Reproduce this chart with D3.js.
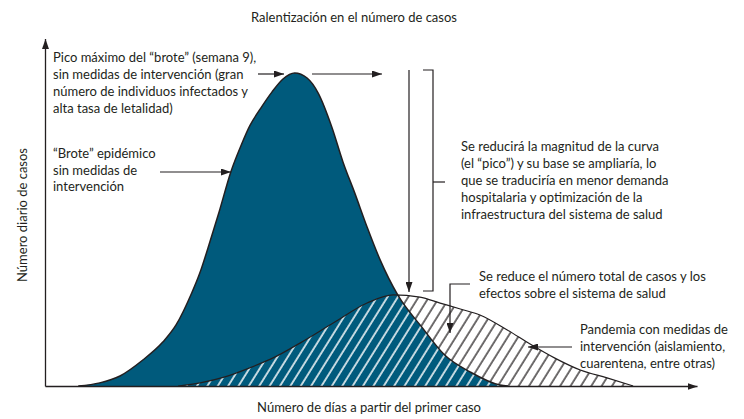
<!DOCTYPE html>
<html><head><meta charset="utf-8">
<script src="https://cdn.jsdelivr.net/npm/d3@7"></script>
<style>
body{margin:0;background:#fff}
svg{display:block}
text{font-family:Lato,"Open Sans",sans-serif;fill:#231f20;font-size:13px}
</style>
</head><body>
<svg id="c" width="744" height="419"></svg>
<script>
// Curve without intervention ("brote"): day, relative daily cases
const outbreakDays  = [5.1, 8.4, 11.5, 15.0, 18.1, 20.1, 22.5, 23.8, 25.0, 26.7, 28.5, 30.1, 31.4, 33.1, 34.8, 36.5, 38.3, 40.2, 41.9, 44.0, 45.7, 47.5, 49.4, 51.4, 54.1, 57.8, 61.3, 65.2, 69.8, 71.0];
const outbreakCases = [0, 1.0, 3.2, 8.3, 14.1, 19.5, 29.7, 36.4, 44.1, 55.6, 68.4, 77.0, 83.1, 88.8, 93.9, 98.1, 100, 98.4, 93.6, 82.7, 71.6, 61.7, 50.8, 40.3, 29.1, 18.8, 9.9, 4.5, 0.3, 0];
// Curve with intervention measures
const flattenedDays  = [20.4, 23.8, 27.6, 31.4, 35.3, 39.1, 44.2, 49.4, 53.4, 57.5, 60.6, 63.7, 66.7, 70.9, 74.4, 78.2, 82.1, 86.2, 90.2];
const flattenedCases = [0, 1.0, 2.9, 5.8, 9.3, 13.7, 20.1, 26.5, 29.1, 28.4, 26.5, 24.6, 22.7, 17.9, 13.4, 8.9, 5.1, 2.6, 0];

const title = "Ralentización en el número de casos";
const xLabel = "Número de días a partir del primer caso";
const yLabel = "Número diario de casos";
const notePeak = ["Pico máximo del “brote” (semana 9),", "sin medidas de intervención (gran", "número de individuos infectados y", "alta tasa de letalidad)"];
const noteOutbreak = ["“Brote” epidémico", "sin medidas de", "intervención"];
const noteReduce = ["Se reducirá la magnitud de la curva", "(el “pico”) y su base se ampliaría, lo", "que se traduciría en menor demanda", "hospitalaria y optimización de la", "infraestructura del sistema de salud"];
const noteTotal = ["Se reduce el número total de casos y los", "efectos sobre el sistema de salud"];
const noteMeasures = ["Pandemia con medidas de", "intervención (aislamiento,", "cuarentena, entre otras)"];

const outbreak = outbreakDays.map((d,i)=>[d, outbreakCases[i]]);
const flattened = flattenedDays.map((d,i)=>[d, flattenedCases[i]]);

const ink = "#231f20", blue = "#005a7c";
const svg = d3.select("#c");
const x = d3.scaleLinear().domain([0,100]).range([45,697]);
const y = d3.scaleLinear().domain([0,100]).range([386,73]);

const defs = svg.append("defs");
defs.append("marker").attr("id","arr").attr("markerUnits","userSpaceOnUse")
  .attr("viewBox","0 0 10 7").attr("markerWidth",10).attr("markerHeight",7)
  .attr("refX",10).attr("refY",3.5).attr("orient","auto")
  .append("path").attr("d","M0,0L10,3.5L0,7Z").attr("fill",ink);
function hatch(id, color, w){
  const p = defs.append("pattern").attr("id",id).attr("patternUnits","userSpaceOnUse")
    .attr("width",8.8).attr("height",10).attr("patternTransform","rotate(32)");
  p.append("line").attr("x1",2).attr("x2",2).attr("y1",0).attr("y2",10)
    .attr("stroke",color).attr("stroke-width",w);
}
hatch("hb", ink, 1.3);
hatch("hw", "#fff", 1.5);

const area = d3.area().x(d=>x(d[0])).y0(y(0)).y1(d=>y(d[1])).curve(d3.curveMonotoneX);
const line = d3.line().x(d=>x(d[0])).y(d=>y(d[1])).curve(d3.curveMonotoneX);

defs.append("clipPath").attr("id","blueClip").append("path").attr("d", area(outbreak));

svg.append("path").attr("d", area(flattened)).attr("fill","#fff");
svg.append("path").attr("d", area(flattened)).attr("fill","url(#hb)");
svg.append("path").attr("d", area(outbreak)).attr("fill",blue);
svg.append("g").attr("clip-path","url(#blueClip)")
  .append("path").attr("d", area(flattened)).attr("fill","url(#hw)");
svg.append("path").attr("d", line(flattened)).attr("fill","none").attr("stroke",ink).attr("stroke-width",1.2);
svg.append("path").attr("d", line(outbreak)).attr("fill","none").attr("stroke",ink).attr("stroke-width",1.5);

// axes
const xAxis = d3.axisBottom(x).tickValues([]).tickSizeOuter(0);
const gx = svg.append("g").attr("transform",`translate(0,${y(0)})`).call(xAxis);
gx.select(".domain").attr("stroke",ink).attr("stroke-width",1.3).attr("marker-end","url(#arr)");
const yExt = y.copy().domain([0,111]).range([y(0), y(111)]);
const gy = svg.append("g").attr("transform",`translate(${x(0)},0)`).call(d3.axisLeft(yExt).tickValues([]).tickSizeOuter(0));
gy.select(".domain").attr("stroke",ink).attr("stroke-width",1.3).attr("marker-end","url(#arr)");

// texts
svg.append("text").attr("x",354).attr("y",22).attr("text-anchor","middle").text(title);
svg.append("text").attr("x",369).attr("y",412).attr("text-anchor","middle").text(xLabel);
svg.append("text").attr("transform","translate(27,215) rotate(-90)").attr("text-anchor","middle").text(yLabel);

function block(lines, x0, y0, dy){
  const t = svg.append("text");
  lines.forEach((s,i)=>t.append("tspan").attr("x",x0).attr("y",y0+i*dy).text(s));
}
block(notePeak, 53, 62, 17);
block(noteOutbreak, 53, 158, 16.5);
block(noteReduce, 461, 151, 17);
block(noteTotal, 479, 281, 17);
block(noteMeasures, 580, 334, 17);

function seg(pts, arrow){
  const p = svg.append("path").attr("d", d3.line()(pts)).attr("fill","none").attr("stroke",ink).attr("stroke-width",1.2);
  if(arrow) p.attr("marker-end","url(#arr)");
}
seg([[258,74],[284,74]], true);
seg([[312,74],[382,74]], true);
seg([[160,172],[231,172]], true);
seg([[409,70],[409,292]], true);
seg([[423,70],[433,70],[433,291],[423,291]], false);
seg([[433,182],[445,182]], false);
seg([[470,284],[450,284],[450,333]], true);
seg([[572,347],[528,347]], true);
</script>
</body></html>
